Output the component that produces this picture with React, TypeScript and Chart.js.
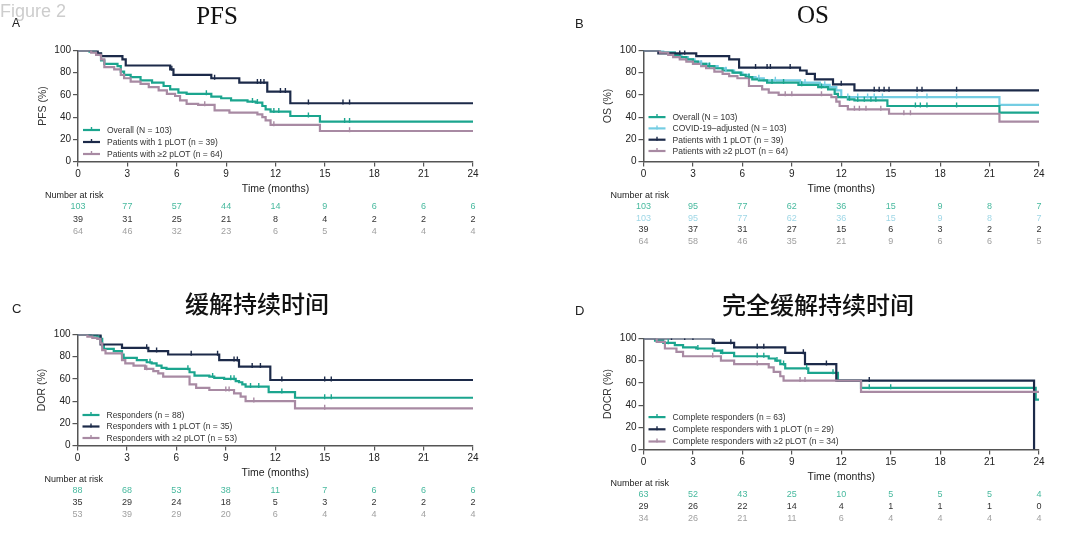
import React, { useEffect, useRef } from "react";
import { Chart, registerables } from "chart.js";

Chart.register(...registerables);

const SANS = '"Liberation Sans", Arial, Helvetica, sans-serif';
const SERIF = '"Liberation Serif", "Times New Roman", serif';
const CJK = '"Noto Sans CJK SC", "Noto Sans", sans-serif';

const TEAL = "#1ba58e";
const NAVY = "#1c2a49";
const MAUVE = "#a88aa3";
const SKY = "#74cde3";

const RISK_TEAL = "#47b99e";
const RISK_SKY = "#9fd7e6";
const RISK_NAVY = "#333333";
const RISK_MAUVE = "#a0a0a0";

const MONTH_TICKS = [0, 3, 6, 9, 12, 15, 18, 21, 24];

// ---------------- A: PFS ----------------
const pfsOverallT = [0, 0.7, 1.1, 1.4, 1.6, 2.4, 2.6, 2.8, 3.2, 3.8, 4.5, 5.2, 5.6, 6.1, 6.6, 8.1, 8.7, 9.3, 10.3, 10.8, 11.2, 11.4, 11.7, 12.9, 14.7, 24];
const pfsOverallS = [100, 99, 97, 91, 88, 86, 81, 78, 76, 73, 71, 68, 65, 62, 61, 58.5, 57, 55, 54, 53, 50, 47, 45, 41, 36, 36];
const pfsOverallCens = [7.8, 10.6, 10.9, 11.9, 12.2, 14.0, 16.2, 16.5];
const pfsOneT = [0, 1.2, 1.4, 2.7, 2.9, 5.6, 5.8, 8.1, 9.8, 11.5, 12.9, 24];
const pfsOneS = [100, 97.5, 95, 92, 86.5, 83, 78, 75, 71, 63, 52.5, 52.5];
const pfsOneCens = [5.7, 8.3, 10.9, 11.1, 11.3, 12.3, 12.6, 14.0, 16.1, 16.5];
const pfsTwoT = [0, 0.8, 1.1, 1.4, 1.6, 2.2, 2.6, 2.8, 3.2, 3.8, 4.3, 4.9, 5.4, 5.9, 6.2, 6.6, 7.3, 8.3, 9.2, 10.9, 11.2, 11.4, 11.7, 14.7, 24];
const pfsTwoS = [100, 98, 96, 92, 85, 83, 78, 75, 72, 70, 67, 64, 61, 59, 55, 52, 51, 46, 44, 42.5, 40, 37, 33, 27.5, 27.5];
const pfsTwoCens = [7.7, 11.9, 16.5];
const pfsRiskOverall = [103, 77, 57, 44, 14, 9, 6, 6, 6];
const pfsRiskOne = [39, 31, 25, 21, 8, 4, 2, 2, 2];
const pfsRiskTwo = [64, 46, 32, 23, 6, 5, 4, 4, 4];

// ---------------- B: OS ----------------
const osOverallT = [0, 1.0, 1.9, 2.2, 2.6, 3.0, 3.3, 3.8, 4.3, 4.8, 5.4, 5.9, 6.2, 6.6, 7.0, 7.5, 9.4, 10.6, 11.2, 11.6, 11.8, 12.4, 12.8, 14.8, 21.6, 24];
const osOverallS = [100, 98, 96, 94, 92, 90, 88, 86, 84, 82, 80, 78, 76, 74, 73, 71, 69, 67, 65, 61, 58, 56, 55, 50, 44, 44];
const osOverallCens = [4.0, 6.4, 7.8, 8.5, 9.6, 10.8, 12.5, 13.0, 13.4, 13.8, 14.1, 16.5, 16.8, 17.2, 19.0];
const osCovidT = [0, 1.2, 1.9, 2.3, 2.7, 3.1, 3.5, 4.0, 4.5, 5.0, 5.5, 6.0, 6.4, 6.8, 7.3, 9.5, 10.7, 11.3, 11.7, 12.0, 21.6, 24];
const osCovidS = [100, 98, 96, 94, 92, 90, 88, 86, 84, 82, 80, 78, 76, 75, 73, 71, 69, 67, 64, 58, 51, 51];
const osCovidCens = [3.5, 5.0, 7.0, 8.0, 9.8, 11.0, 12.4, 13.0, 13.6, 14.0, 14.5, 16.6, 17.2, 19.0];
const osOneT = [0, 0.9, 3.2, 5.2, 5.8, 9.5, 9.9, 10.4, 11.5, 12.8, 24];
const osOneS = [100, 97.5, 95, 92, 84.5, 82, 79, 74, 69.5, 64, 64];
const osOneCens = [2.2, 2.5, 6.8, 7.5, 7.7, 8.9, 12.0, 14.0, 14.3, 14.6, 14.9, 16.6, 16.9, 19.0];
const osTwoT = [0, 1.0, 1.5, 1.8, 2.2, 2.6, 3.0, 3.5, 3.8, 4.3, 4.8, 5.2, 5.7, 6.4, 7.2, 7.6, 8.2, 11.4, 11.7, 11.9, 12.4, 14.9, 21.6, 24];
const osTwoS = [100, 98, 96, 94, 92, 90, 88, 86, 84, 81, 79, 77, 75, 68, 65, 62, 60, 58, 54, 50, 47, 43, 36, 36];
const osTwoCens = [8.6, 9.0, 10.8, 12.8, 13.1, 13.5, 14.4, 15.8, 16.2];
const osRiskOverall = [103, 95, 77, 62, 36, 15, 9, 8, 7];
const osRiskCovid = [103, 95, 77, 62, 36, 15, 9, 8, 7];
const osRiskOne = [39, 37, 31, 27, 15, 6, 3, 2, 2];
const osRiskTwo = [64, 58, 46, 35, 21, 9, 6, 6, 5];

// ---------------- C: DOR ----------------
const dorAllT = [0, 0.8, 1.2, 1.4, 1.5, 1.6, 2.2, 2.7, 2.8, 3.6, 4.2, 4.5, 4.8, 5.1, 5.4, 6.8, 7.1, 8.0, 8.3, 8.9, 9.6, 9.8, 10.0, 10.2, 11.6, 13.2, 24];
const dorAllS = [100, 99, 98, 96, 90, 87, 85, 82, 79, 77, 75, 74, 72, 70, 69, 66, 63, 62, 61, 60, 58, 57, 55, 53, 48, 43, 43];
const dorAllCens = [4.4, 6.7, 8.2, 9.3, 9.5, 10.5, 11.0, 12.4, 15.0, 15.4];
const dorOneT = [0, 1.4, 2.7, 4.3, 5.5, 8.6, 9.8, 11.7, 24];
const dorOneS = [100, 91, 88, 85, 82, 77, 71, 59, 59];
const dorOneCens = [4.2, 4.8, 6.9, 8.5, 9.5, 9.7, 10.6, 11.1, 12.4, 15.0, 15.4];
const dorTwoT = [0, 0.6, 0.9, 1.2, 1.4, 1.5, 1.7, 2.7, 2.9, 3.4, 4.1, 4.6, 4.9, 5.2, 6.8, 7.2, 8.0, 9.5, 9.9, 10.2, 13.2, 24];
const dorTwoS = [100, 98, 97, 96, 92, 86, 83, 77, 74, 72, 69, 67, 65, 62, 55, 52, 50, 47, 44, 40, 33.5, 33.5];
const dorTwoCens = [4.2, 9.0, 9.2, 10.7, 15.0];
const dorRiskAll = [88, 68, 53, 38, 11, 7, 6, 6, 6];
const dorRiskOne = [35, 29, 24, 18, 5, 3, 2, 2, 2];
const dorRiskTwo = [53, 39, 29, 20, 6, 4, 4, 4, 4];

// ---------------- D: DOCR ----------------
const docrAllT = [0, 0.7, 1.2, 1.9, 2.4, 3.2, 4.3, 4.7, 5.5, 7.6, 8.0, 8.3, 8.6, 10.0, 11.8, 13.2, 23.8, 24];
const docrAllS = [100, 98, 96, 94, 92, 91, 89, 87, 84, 82, 80, 77, 73, 69, 62, 55.5, 45, 45];
const docrAllCens = [1.5, 3.3, 4.8, 6.9, 7.3, 8.1, 8.5, 9.9, 11.5, 13.7, 15.0];
const docrOneT = [0, 4.2, 5.5, 8.6, 9.8, 11.7, 23.7];
const docrOneS = [100, 96, 92, 87, 77, 62, 0];
const docrOneCens = [1.7, 2.5, 3.0, 4.3, 5.3, 6.9, 7.3, 9.7, 11.1, 13.7];
const docrTwoT = [0, 0.8, 1.3, 2.0, 2.4, 4.7, 5.5, 7.6, 7.9, 8.3, 8.5, 13.2, 24];
const docrTwoS = [100, 97, 91, 88, 84, 80, 77, 74, 70, 66, 62, 52, 52];
const docrTwoCens = [4.2, 6.9, 9.5, 9.8];
const docrRiskAll = [63, 52, 43, 25, 10, 5, 5, 5, 4];
const docrRiskOne = [29, 26, 22, 14, 4, 1, 1, 1, 0];
const docrRiskTwo = [34, 26, 21, 11, 6, 4, 4, 4, 4];

type Series = {
  label: string;
  color: string;
  t: number[];
  s: number[];
  cens: number[];
  risk: number[];
  riskColor: string;
  order: number;
};

type PanelCfg = {
  key: string;
  yTitle: string;
  series: Series[];
  x: number;
  y: number;
  area: { l: number; t: number; r: number; b: number };
  rowGap: number;
  legendGap: number;
  legendBottom: number;
};

function stepAt(t: number[], s: number[], x: number): number {
  let v = s[0];
  for (let i = 0; i < t.length; i++) if (t[i] <= x) v = s[i];
  return v;
}

const PANELS: PanelCfg[] = [
  {
    key: "A",
    yTitle: "PFS (%)",
    x: 0,
    y: 0,
    area: { l: 78, t: 50.5, r: 473, b: 161.5 },
    rowGap: 12.5,
    legendGap: 12,
    legendBottom: 7.5,
    series: [
      { label: "Overall (N = 103)", color: TEAL, t: pfsOverallT, s: pfsOverallS, cens: pfsOverallCens, risk: pfsRiskOverall, riskColor: RISK_TEAL, order: 2 },
      { label: "Patients with 1 pLOT (n = 39)", color: NAVY, t: pfsOneT, s: pfsOneS, cens: pfsOneCens, risk: pfsRiskOne, riskColor: RISK_NAVY, order: 1 },
      { label: "Patients with \u22652 pLOT (n = 64)", color: MAUVE, t: pfsTwoT, s: pfsTwoS, cens: pfsTwoCens, risk: pfsRiskTwo, riskColor: RISK_MAUVE, order: 0 },
    ],
  },
  {
    key: "B",
    yTitle: "OS (%)",
    x: 540,
    y: 0,
    area: { l: 103.5, t: 50.5, r: 499, b: 161.5 },
    rowGap: 11.5,
    legendGap: 11.3,
    legendBottom: 10.5,
    series: [
      { label: "Overall (N = 103)", color: TEAL, t: osOverallT, s: osOverallS, cens: osOverallCens, risk: osRiskOverall, riskColor: RISK_TEAL, order: 2 },
      { label: "COVID-19\u2013adjusted (N = 103)", color: SKY, t: osCovidT, s: osCovidS, cens: osCovidCens, risk: osRiskCovid, riskColor: RISK_SKY, order: 3 },
      { label: "Patients with 1 pLOT (n = 39)", color: NAVY, t: osOneT, s: osOneS, cens: osOneCens, risk: osRiskOne, riskColor: RISK_NAVY, order: 1 },
      { label: "Patients with \u22652 pLOT (n = 64)", color: MAUVE, t: osTwoT, s: osTwoS, cens: osTwoCens, risk: osRiskTwo, riskColor: RISK_MAUVE, order: 0 },
    ],
  },
  {
    key: "C",
    yTitle: "DOR (%)",
    x: 0,
    y: 270,
    area: { l: 77.5, t: 64.5, r: 473, b: 175.5 },
    rowGap: 12,
    legendGap: 11.5,
    legendBottom: 7.5,
    series: [
      { label: "Responders (n = 88)", color: TEAL, t: dorAllT, s: dorAllS, cens: dorAllCens, risk: dorRiskAll, riskColor: RISK_TEAL, order: 2 },
      { label: "Responders with 1 pLOT (n = 35)", color: NAVY, t: dorOneT, s: dorOneS, cens: dorOneCens, risk: dorRiskOne, riskColor: RISK_NAVY, order: 1 },
      { label: "Responders with \u22652 pLOT (n = 53)", color: MAUVE, t: dorTwoT, s: dorTwoS, cens: dorTwoCens, risk: dorRiskTwo, riskColor: RISK_MAUVE, order: 0 },
    ],
  },
  {
    key: "D",
    yTitle: "DOCR (%)",
    x: 540,
    y: 270,
    area: { l: 103.5, t: 68.5, r: 499, b: 179.5 },
    rowGap: 11.8,
    legendGap: 12.2,
    legendBottom: 8,
    series: [
      { label: "Complete responders (n = 63)", color: TEAL, t: docrAllT, s: docrAllS, cens: docrAllCens, risk: docrRiskAll, riskColor: RISK_TEAL, order: 2 },
      { label: "Complete responders with 1 pLOT (n = 29)", color: NAVY, t: docrOneT, s: docrOneS, cens: docrOneCens, risk: docrRiskOne, riskColor: RISK_NAVY, order: 1 },
      { label: "Complete responders with \u22652 pLOT (n = 34)", color: MAUVE, t: docrTwoT, s: docrTwoS, cens: docrTwoCens, risk: docrRiskTwo, riskColor: RISK_MAUVE, order: 0 },
    ],
  },
];

const CW = 540;
const CH = 270;
const X_H = 22;
const Y_W = 30;

function KMPanel({ cfg }: { cfg: PanelCfg }) {
  const ref = useRef<HTMLCanvasElement>(null);
  useEffect(() => {
    const canvas = ref.current;
    if (!canvas) return;
    const datasets: any[] = [];
    cfg.series.forEach((sr) => {
      datasets.push({
        label: sr.label,
        data: sr.t.map((x, i) => ({ x, y: sr.s[i] })),
        borderColor: sr.color,
        backgroundColor: sr.color,
        borderWidth: 2.2,
        pointRadius: 0,
        stepped: "before",
        fill: false,
        order: sr.order + 10,
      });
      datasets.push({
        label: sr.label + " (censored)",
        data: sr.cens.map((x) => ({ x, y: stepAt(sr.t, sr.s, x) + 1 })),
        showLine: false,
        pointStyle: "line",
        pointRotation: 90,
        pointRadius: 2.5,
        pointBorderWidth: 1.4,
        pointBorderColor: sr.color,
        pointBackgroundColor: sr.color,
        borderColor: sr.color,
        order: sr.order,
      });
    });

    const decor = {
      id: "kmDecor",
      afterDraw(chart: any) {
        const { ctx, chartArea: a } = chart;
        const xs = chart.scales.x;
        ctx.save();
        // y title
        ctx.save();
        ctx.translate(a.left - 35, (a.top + a.bottom) / 2);
        ctx.rotate(-Math.PI / 2);
        ctx.font = `10.5px ${SANS}`;
        ctx.fillStyle = "#333";
        ctx.textAlign = "center";
        ctx.textBaseline = "middle";
        ctx.fillText(cfg.yTitle, 0, 0);
        ctx.restore();
        // x title
        ctx.font = `10.5px ${SANS}`;
        ctx.fillStyle = "#222";
        ctx.textAlign = "center";
        ctx.textBaseline = "middle";
        ctx.fillText("Time (months)", (a.left + a.right) / 2, a.bottom + 27.5);
        // number at risk
        ctx.font = `9px ${SANS}`;
        ctx.textAlign = "left";
        ctx.fillStyle = "#222";
        ctx.fillText("Number at risk", a.left - 33, a.bottom + 34);
        ctx.textAlign = "center";
        cfg.series.forEach((sr, k) => {
          ctx.fillStyle = sr.riskColor;
          sr.risk.forEach((n, i) => {
            ctx.fillText(String(n), xs.getPixelForValue(MONTH_TICKS[i]), a.bottom + 45.5 + k * cfg.rowGap);
          });
        });
        // legend
        const n = cfg.series.length;
        ctx.font = `8.5px ${SANS}`;
        ctx.textAlign = "left";
        cfg.series.forEach((sr, k) => {
          const yy = a.bottom - cfg.legendBottom - (n - 1 - k) * cfg.legendGap;
          ctx.strokeStyle = sr.color;
          ctx.lineWidth = 2.2;
          ctx.beginPath();
          ctx.moveTo(a.left + 5, yy);
          ctx.lineTo(a.left + 22, yy);
          ctx.stroke();
          ctx.lineWidth = 1.4;
          ctx.beginPath();
          ctx.moveTo(a.left + 13.5, yy - 3);
          ctx.lineTo(a.left + 13.5, yy + 1);
          ctx.stroke();
          ctx.fillStyle = "#333";
          ctx.fillText(sr.label, a.left + 29, yy + 0.5);
        });
        ctx.restore();
      },
    };

    const chart = new Chart(canvas, {
      type: "line",
      data: { datasets },
      plugins: [decor],
      options: {
        animation: false,
        responsive: false,
        events: [],
        layout: {
          padding: {
            left: cfg.area.l - Y_W,
            top: cfg.area.t,
            right: CW - cfg.area.r,
            bottom: CH - cfg.area.b - X_H,
          },
        },
        plugins: { legend: { display: false }, tooltip: { enabled: false }, title: { display: false } },
        scales: {
          x: {
            type: "linear",
            min: 0,
            max: 24,
            afterFit: (s: any) => {
              s.height = X_H;
            },
            afterBuildTicks: (s: any) => {
              s.ticks = MONTH_TICKS.map((v) => ({ value: v }));
            },
            ticks: { font: { family: SANS, size: 10 }, color: "#222", padding: 2, maxRotation: 0, autoSkip: false },
            grid: { drawOnChartArea: false, tickLength: 5, color: "#555", lineWidth: 1.2 },
            border: { display: true, color: "#555", width: 1.5 },
          },
          y: {
            type: "linear",
            min: 0,
            max: 100,
            afterFit: (s: any) => {
              s.width = Y_W;
            },
            ticks: { stepSize: 20, font: { family: SANS, size: 10 }, color: "#222", padding: 2 },
            grid: { drawOnChartArea: false, tickLength: 5, color: "#555", lineWidth: 1.2 },
            border: { display: true, color: "#555", width: 1.5 },
          },
        },
      } as any,
    });
    return () => chart.destroy();
  }, [cfg]);

  return (
    <canvas
      ref={ref}
      width={CW}
      height={CH}
      style={{ position: "absolute", left: cfg.x, top: cfg.y, width: CW, height: CH }}
    />
  );
}

const TITLES = [
  { text: "PFS", cx: 217, top: 3, font: SERIF, size: 25, weight: 400 },
  { text: "OS", cx: 813, top: 2, font: SERIF, size: 25, weight: 400 },
  { text: "缓解持续时间", cx: 257, top: 291, font: CJK, size: 24, weight: 500 },
  { text: "完全缓解持续时间", cx: 818, top: 291.5, font: CJK, size: 24, weight: 500 },
];

const LETTERS = [
  { text: "A", x: 12, y: 17, size: 12 },
  { text: "B", x: 575, y: 17, size: 13 },
  { text: "C", x: 12, y: 302, size: 13 },
  { text: "D", x: 575, y: 304, size: 13 },
];

export default function App() {
  return (
    <div
      style={{
        position: "absolute",
        left: 0,
        top: 0,
        width: 1080,
        height: 540,
        background: "#ffffff",
        overflow: "hidden",
      }}
    >
      {PANELS.map((p) => (
        <KMPanel key={p.key} cfg={p} />
      ))}
      <div
        style={{
          position: "absolute",
          left: 0,
          top: 2,
          fontFamily: SANS,
          fontSize: 18,
          lineHeight: 1,
          color: "#cdcdcd",
          whiteSpace: "nowrap",
        }}
      >
        Figure 2
      </div>
      {LETTERS.map((l) => (
        <div
          key={l.text}
          style={{
            position: "absolute",
            left: l.x,
            top: l.y,
            fontFamily: SANS,
            fontSize: l.size,
            lineHeight: 1,
            color: "#222",
          }}
        >
          {l.text}
        </div>
      ))}
      {TITLES.map((t) => (
        <div
          key={t.text}
          style={{
            position: "absolute",
            left: t.cx - 200,
            width: 400,
            top: t.top,
            textAlign: "center",
            fontFamily: t.font,
            fontSize: t.size,
            fontWeight: t.weight,
            lineHeight: 1,
            color: "#111",
            whiteSpace: "nowrap",
          }}
        >
          {t.text}
        </div>
      ))}
    </div>
  );
}
